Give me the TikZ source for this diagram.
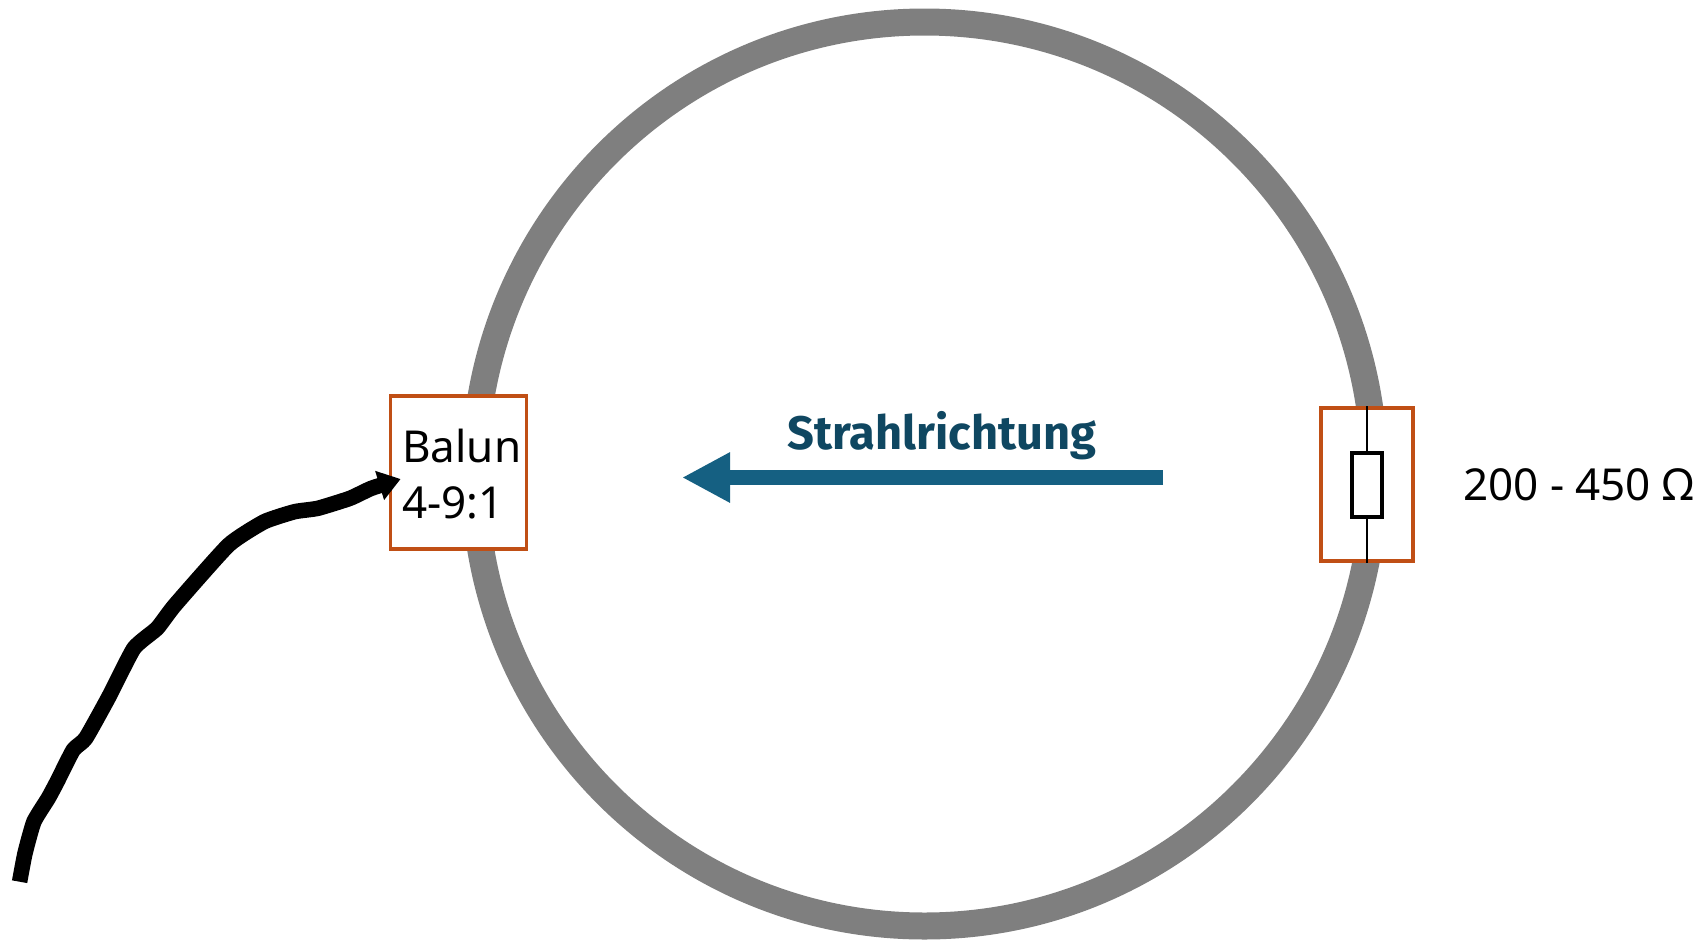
\documentclass[tikz,border=0pt]{standalone}
\usepackage{xcolor}
\usepackage{fontspec}
\setmainfont{Noto Sans}
\newfontfamily\titlefont{Fira Sans}
\usetikzlibrary{arrows.meta, positioning}
\definecolor{ringgrey}{HTML}{7F7F7F}
\definecolor{boxorange}{HTML}{C04F15}
\definecolor{beamblue}{HTML}{156082}
\definecolor{titleblue}{HTML}{0F4761}

\begin{document}
\begin{tikzpicture}[
    x=1pt, y=-1pt,
    wrapbox/.style={draw=boxorange, fill=white, line width=3.7pt, inner sep=0pt},
    plain/.style={font=\fontsize{44}{56}\selectfont, inner sep=0pt, align=left},
    resistor/.style={draw=black, fill=white, line width=4pt, minimum width=30pt, minimum height=64pt, inner sep=0pt},
    wire/.style={draw=black, line width=2.6pt}
]
    \useasboundingbox (0,0) rectangle (1704,940);

    % Ring
    \draw[ringgrey, line width=27pt] (924.5,474) circle [x radius=450pt, y radius=452pt];

    % Boxes
    \node[wrapbox, minimum width=136pt, minimum height=153pt] (balun) at (458.5,472.5) {};
    \node[wrapbox, minimum width=92pt, minimum height=153pt] (load) at (1367,484.5) {};

    % Balun text
    \node[plain, anchor=west] (baluntext) at (402,474) {Balun\\4-9:1};

    % Resistor
    \node[resistor] (res) at (load.center) {};
    \draw[wire] (load.north) -- (res.north);
    \draw[wire] (res.south) -- (load.south);
    \node[plain, right=48pt of load] (loadtext) {200 - 450 Ω};

    % Beam direction
    \coordinate (beamstart) at (1163,477.5);
    \coordinate (beamend) at (682,477.5);
    \draw[beamblue, line width=15.5pt, -{Triangle[length=48pt, width=47pt]}] (beamstart) -- (beamend);
    \node[titleblue, anchor=base, font=\fontsize{47}{50}\titlefont\bfseries, inner sep=0pt] (beamtext) at (942,449) {Strahlrichtung};

    % Feed line
    \coordinate (cabletip) at ([xshift=12pt, yshift=-6.5pt]balun.west);
    \draw[black, line width=15.5pt, -{Triangle[length=22pt, width=29pt]}] plot[smooth, tension=0.3] coordinates {
        (19.6,881.7) (25,853.3) (33.9,821.7) (48.2,798.3) (57.1,781.7) (73.2,750) (85.7,738.3)
        (108.9,696.7) (133.9,648.3) (157.1,628.3) (175,605) (228.6,545) (264.3,521.7)
        (294.6,511.7) (317.9,508.3) (350,498.3) (371.4,488.3) (cabletip)};
\end{tikzpicture}
\end{document}
